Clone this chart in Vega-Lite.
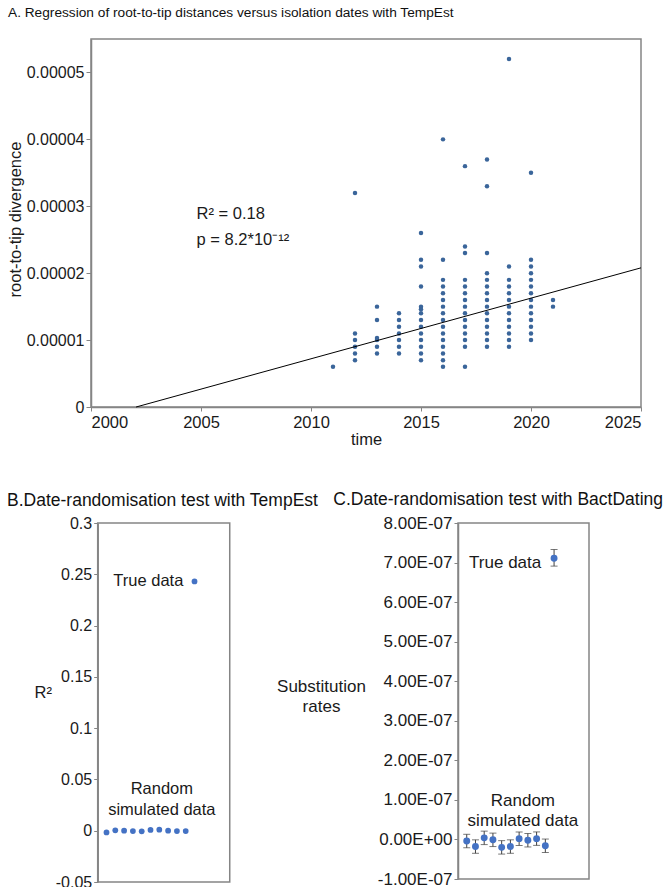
{
  "$schema": "https://vega.github.io/schema/vega-lite/v6.json",
  "background": "white",
  "padding": {"left": 6, "top": 5, "right": 5, "bottom": 0},
  "spacing": 41,
  "align": "none",
  "config": {
    "font": "Liberation Sans",
    "view": {"stroke": "#858585", "strokeWidth": 1.5},
    "axis": {
      "grid": false,
      "domainColor": "#858585",
      "domainWidth": 1.5,
      "tickColor": "#858585",
      "labelColor": "#1a1a1a",
      "titleColor": "#1a1a1a",
      "labelFont": "Liberation Sans",
      "titleFont": "Liberation Sans",
      "labelFontSize": 16,
      "titleFontSize": 16.5,
      "titleFontWeight": "normal",
      "tickSize": 4,
      "labelPadding": 2,
      "labelOverlap": false
    },
    "title": {"font": "Liberation Sans", "fontSize": 17.5, "fontWeight": "normal", "color": "#111111", "anchor": "start", "frame": "group"},
    "text": {"font": "Liberation Sans", "fontSize": 16.5, "color": "#1a1a1a"}
  },
  "vconcat": [
    {
      "width": 550,
      "height": 368,
      "title": {"text": "A. Regression of root-to-tip distances versus isolation dates with TempEst", "fontSize": 13.7, "dx": -83, "offset": 19},
      "layer": [
        {
          "data": {"values": [
            {"t": 2011, "d": 6e-6},
            {"t": 2012, "d": 3.2e-5}, {"t": 2012, "d": 1.1e-5}, {"t": 2012, "d": 1.0e-5}, {"t": 2012, "d": 9e-6}, {"t": 2012, "d": 8e-6}, {"t": 2012, "d": 7e-6},
            {"t": 2013, "d": 1.5e-5}, {"t": 2013, "d": 1.3e-5}, {"t": 2013, "d": 1.03e-5}, {"t": 2013, "d": 1.0e-5}, {"t": 2013, "d": 9e-6}, {"t": 2013, "d": 8e-6},
            {"t": 2014, "d": 1.4e-5}, {"t": 2014, "d": 1.3e-5}, {"t": 2014, "d": 1.2e-5}, {"t": 2014, "d": 1.1e-5}, {"t": 2014, "d": 1.0e-5}, {"t": 2014, "d": 9e-6}, {"t": 2014, "d": 8e-6},
            {"t": 2015, "d": 2.6e-5}, {"t": 2015, "d": 2.2e-5}, {"t": 2015, "d": 2.1e-5}, {"t": 2015, "d": 1.8e-5}, {"t": 2015, "d": 1.5e-5}, {"t": 2015, "d": 1.46e-5}, {"t": 2015, "d": 1.4e-5}, {"t": 2015, "d": 1.3e-5}, {"t": 2015, "d": 1.2e-5}, {"t": 2015, "d": 1.1e-5}, {"t": 2015, "d": 1.0e-5}, {"t": 2015, "d": 9e-6}, {"t": 2015, "d": 8e-6}, {"t": 2015, "d": 7e-6},
            {"t": 2016, "d": 4.0e-5}, {"t": 2016, "d": 2.2e-5}, {"t": 2016, "d": 1.9e-5}, {"t": 2016, "d": 1.8e-5}, {"t": 2016, "d": 1.7e-5}, {"t": 2016, "d": 1.6e-5}, {"t": 2016, "d": 1.5e-5}, {"t": 2016, "d": 1.4e-5}, {"t": 2016, "d": 1.3e-5}, {"t": 2016, "d": 1.2e-5}, {"t": 2016, "d": 1.1e-5}, {"t": 2016, "d": 1.0e-5}, {"t": 2016, "d": 9e-6}, {"t": 2016, "d": 8e-6}, {"t": 2016, "d": 7e-6}, {"t": 2016, "d": 6e-6},
            {"t": 2017, "d": 3.6e-5}, {"t": 2017, "d": 2.4e-5}, {"t": 2017, "d": 2.3e-5}, {"t": 2017, "d": 1.9e-5}, {"t": 2017, "d": 1.8e-5}, {"t": 2017, "d": 1.7e-5}, {"t": 2017, "d": 1.6e-5}, {"t": 2017, "d": 1.5e-5}, {"t": 2017, "d": 1.4e-5}, {"t": 2017, "d": 1.3e-5}, {"t": 2017, "d": 1.2e-5}, {"t": 2017, "d": 1.1e-5}, {"t": 2017, "d": 1.0e-5}, {"t": 2017, "d": 9e-6}, {"t": 2017, "d": 6e-6},
            {"t": 2018, "d": 3.7e-5}, {"t": 2018, "d": 3.3e-5}, {"t": 2018, "d": 2.3e-5}, {"t": 2018, "d": 2.0e-5}, {"t": 2018, "d": 1.9e-5}, {"t": 2018, "d": 1.8e-5}, {"t": 2018, "d": 1.7e-5}, {"t": 2018, "d": 1.6e-5}, {"t": 2018, "d": 1.5e-5}, {"t": 2018, "d": 1.4e-5}, {"t": 2018, "d": 1.3e-5}, {"t": 2018, "d": 1.2e-5}, {"t": 2018, "d": 1.1e-5}, {"t": 2018, "d": 1.0e-5}, {"t": 2018, "d": 9e-6},
            {"t": 2019, "d": 5.2e-5}, {"t": 2019, "d": 2.1e-5}, {"t": 2019, "d": 1.9e-5}, {"t": 2019, "d": 1.8e-5}, {"t": 2019, "d": 1.7e-5}, {"t": 2019, "d": 1.6e-5}, {"t": 2019, "d": 1.5e-5}, {"t": 2019, "d": 1.4e-5}, {"t": 2019, "d": 1.3e-5}, {"t": 2019, "d": 1.2e-5}, {"t": 2019, "d": 1.1e-5}, {"t": 2019, "d": 1.0e-5}, {"t": 2019, "d": 9e-6},
            {"t": 2020, "d": 3.5e-5}, {"t": 2020, "d": 2.2e-5}, {"t": 2020, "d": 2.1e-5}, {"t": 2020, "d": 2.0e-5}, {"t": 2020, "d": 1.9e-5}, {"t": 2020, "d": 1.8e-5}, {"t": 2020, "d": 1.7e-5}, {"t": 2020, "d": 1.6e-5}, {"t": 2020, "d": 1.5e-5}, {"t": 2020, "d": 1.4e-5}, {"t": 2020, "d": 1.3e-5}, {"t": 2020, "d": 1.2e-5}, {"t": 2020, "d": 1.1e-5}, {"t": 2020, "d": 1.0e-5},
            {"t": 2021, "d": 1.6e-5}, {"t": 2021, "d": 1.5e-5}
          ]},
          "mark": {"type": "circle", "size": 20, "color": "#3a659a", "opacity": 1},
          "encoding": {
            "x": {"field": "t", "type": "quantitative", "scale": {"domain": [2000, 2025], "nice": false, "zero": false},
                  "axis": {"values": [2000, 2005, 2010, 2015, 2020, 2025], "tickCount": 20, "format": "d", "title": "time", "labelFontSize": 16.5, "titlePadding": 1, "tickSize": 4, "labelPadding": 3}},
            "y": {"field": "d", "type": "quantitative", "scale": {"domain": [0, 0.000055], "nice": false},
                  "axis": {"values": [0, 0.00001, 0.00002, 0.00003, 0.00004, 0.00005], "tickCount": 20, "format": ".5~f", "title": "root-to-tip divergence", "titleX": -76, "titleY": 180, "titleBaseline": "middle", "titleAlign": "center", "tickSize": 5}}
          }
        },
        {
          "data": {"values": [{"t": 2002.05, "d": 0}, {"t": 2025, "d": 0.0000208}]},
          "mark": {"type": "line", "color": "black", "strokeWidth": 1},
          "encoding": {"x": {"field": "t", "type": "quantitative"}, "y": {"field": "d", "type": "quantitative"}}
        },
        {
          "data": {"values": [
            {"t": 2004.8, "d": 0.0000289, "label": "R² = 0.18"},
            {"t": 2004.8, "d": 0.0000249, "label": "p = 8.2*10⁻¹²"}
          ]},
          "mark": {"type": "text", "align": "left", "baseline": "middle", "fontSize": 16.5},
          "encoding": {"x": {"field": "t", "type": "quantitative"}, "y": {"field": "d", "type": "quantitative"}, "text": {"field": "label"}}
        }
      ]
    },
    {
      "bounds": "flush",
      "spacing": 228,
      "hconcat": [
        {
          "width": 139,
          "height": 359,
          "view": {"stroke": null},
          "title": {"text": "B.Date-randomisation test with TempEst", "dx": -84, "offset": 5.5},
          "layer": [
            {
              "data": {"values": [{"x0": 0, "x1": 15, "y0": -0.05, "y1": 0.3}]},
              "mark": {"type": "rect", "fill": null, "stroke": "#858585", "strokeWidth": 1.5},
              "encoding": {
                "x": {"field": "x0", "type": "quantitative", "scale": {"domain": [-0.76, 15.03], "nice": false, "zero": false}, "axis": null},
                "x2": {"field": "x1"},
                "y": {"field": "y0", "type": "quantitative", "scale": {"domain": [-0.05, 0.3], "nice": false, "zero": false},
                      "axis": {"values": [-0.05, 0, 0.05, 0.1, 0.15, 0.2, 0.25, 0.3], "tickCount": 20, "labelExpr": "'' + datum.value", "offset": -6.7, "title": "R²", "titleAngle": 0, "titleX": -55, "titleY": 169, "titleAlign": "center", "titleBaseline": "middle"}},
                "y2": {"field": "y1"}
              }
            },
            {
              "data": {"values": [
                {"i": 1, "r2": -0.0017}, {"i": 2, "r2": 0.0004}, {"i": 3, "r2": 0}, {"i": 4, "r2": -0.0003}, {"i": 5, "r2": -0.0006},
                {"i": 6, "r2": 0.0007}, {"i": 7, "r2": 0.001}, {"i": 8, "r2": 0}, {"i": 9, "r2": -0.0003}, {"i": 10, "r2": -0.0003},
                {"i": 11, "r2": 0.243}
              ]},
              "mark": {"type": "circle", "size": 33, "color": "#4472c4", "opacity": 1},
              "encoding": {
                "x": {"field": "i", "type": "quantitative"},
                "y": {"field": "r2", "type": "quantitative"}
              }
            },
            {
              "data": {"values": [
                {"i": 5.75, "r2": 0.243, "label": "True data"},
                {"i": 7.29, "r2": 0.041, "label": "Random"},
                {"i": 7.29, "r2": 0.0205, "label": "simulated data"}
              ]},
              "mark": {"type": "text", "align": "center", "baseline": "middle", "fontSize": 16.5},
              "encoding": {"x": {"field": "i", "type": "quantitative"}, "y": {"field": "r2", "type": "quantitative"}, "text": {"field": "label"}}
            }
          ]
        },
        {
          "width": 131,
          "height": 356,
          "title": {"text": "C.Date-randomisation test with BactDating", "dx": -124.7, "offset": 5.5},
          "layer": [
            {
              "data": {"name": "crates"},
              "mark": {"type": "rule", "color": "#404040", "strokeWidth": 1},
              "encoding": {
                "x": {"field": "i", "type": "quantitative", "scale": {"domain": [0, 15], "nice": false, "zero": false}, "axis": null},
                "y": {"field": "lo", "type": "quantitative", "scale": {"domain": [-1e-7, 8e-7], "nice": false, "zero": false},
                      "axis": {"values": [-1e-7, 0, 1e-7, 2e-7, 3e-7, 4e-7, 5e-7, 6e-7, 7e-7, 8e-7],
                               "tickCount": 20,
                               "labelOverlap": false,
                               "labelExpr": "datum.value == 0 ? '0.00E+00' : (datum.value < 0 ? '-' : '') + format(abs(datum.value) * 1e7, '.2f') + 'E-07'",
                               "labelFontSize": 17,
                               "title": ["Substitution", "rates"], "titleFontSize": 17, "titleAngle": 0, "titleX": -137, "titleY": 163, "titleAlign": "center", "titleBaseline": "middle", "titleLineHeight": 20}},
                "y2": {"field": "hi"}
              }
            },
            {
              "data": {"name": "crates"},
              "mark": {"type": "tick", "orient": "horizontal", "size": 7, "thickness": 1, "color": "#404040"},
              "encoding": {"x": {"field": "i", "type": "quantitative"}, "y": {"field": "lo", "type": "quantitative"}}
            },
            {
              "data": {"name": "crates"},
              "mark": {"type": "tick", "orient": "horizontal", "size": 7, "thickness": 1, "color": "#404040"},
              "encoding": {"x": {"field": "i", "type": "quantitative"}, "y": {"field": "hi", "type": "quantitative"}}
            },
            {
              "data": {"name": "crates"},
              "mark": {"type": "circle", "size": 48, "color": "#4472c4", "opacity": 1},
              "encoding": {"x": {"field": "i", "type": "quantitative"}, "y": {"field": "rate", "type": "quantitative"}}
            },
            {
              "data": {"values": [
                {"i": 5.4, "rate": 7.0e-7, "label": "True data"},
                {"i": 7.43, "rate": 0.97e-7, "label": "Random"},
                {"i": 7.43, "rate": 0.46e-7, "label": "simulated data"}
              ]},
              "mark": {"type": "text", "align": "center", "baseline": "middle", "fontSize": 17},
              "encoding": {"x": {"field": "i", "type": "quantitative"}, "y": {"field": "rate", "type": "quantitative"}, "text": {"field": "label"}}
            }
          ]
        }
      ]
    }
  ],
  "datasets": {
    "crates": [
      {"i": 1, "rate": -4e-9, "lo": -2.1e-8, "hi": 1.3e-8},
      {"i": 2, "rate": -1.8e-8, "lo": -3.5e-8, "hi": -1e-9},
      {"i": 3, "rate": 4e-9, "lo": -1.3e-8, "hi": 2.1e-8},
      {"i": 4, "rate": -1e-9, "lo": -1.8e-8, "hi": 1.6e-8},
      {"i": 5, "rate": -2e-8, "lo": -3.7e-8, "hi": -3e-9},
      {"i": 6, "rate": -1.8e-8, "lo": -3.5e-8, "hi": -1e-9},
      {"i": 7, "rate": 2e-9, "lo": -1.5e-8, "hi": 1.9e-8},
      {"i": 8, "rate": -2e-9, "lo": -1.9e-8, "hi": 1.5e-8},
      {"i": 9, "rate": 2e-9, "lo": -1.5e-8, "hi": 1.9e-8},
      {"i": 10, "rate": -1.6e-8, "lo": -3.3e-8, "hi": 1e-9},
      {"i": 11, "rate": 7.11e-7, "lo": 6.91e-7, "hi": 7.33e-7}
    ]
  }
}
